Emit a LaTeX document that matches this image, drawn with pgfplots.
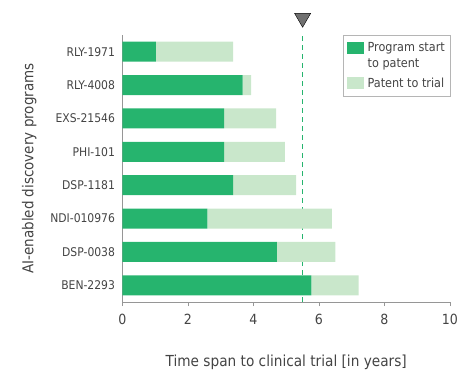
\documentclass[border=0pt]{standalone}
\usepackage{pgfplots}
\pgfplotsset{compat=1.18}
\usepackage{pgfplotstable}
\usepackage{fontspec}
\setmainfont{DejaVu Sans Condensed}
\definecolor{dkgreen}{RGB}{38,180,110}
\definecolor{ltgreen}{RGB}{201,231,203}
\definecolor{txtgray}{RGB}{68,68,68}
\definecolor{axgray}{RGB}{150,150,150}
\definecolor{trigray}{RGB}{112,112,112}

\pgfplotsset{
  legA/.style={legend image code/.code={\fill[##1] (0pt,2pt) rectangle (17pt,14pt);}},
  legB/.style={legend image code/.code={\fill[##1] (0pt,-6pt) rectangle (17pt,6pt);}},
}

\pgfplotstableread{
idx a b
0 5.77 1.44
1 4.71 1.79
2 2.59 3.80
3 3.38 1.92
4 3.10 1.86
5 3.10 1.59
6 3.67 0.26
7 1.02 2.36
}\datatable

\begin{document}
\begin{tikzpicture}
\begin{axis}[
  scale only axis,
  width=327.5pt, height=267pt,
  xbar stacked,
  bar width=20pt,
  xmin=0, xmax=10,
  ymin=-0.5, ymax=7.5,
  clip=false,
  axis lines*=left,
  axis line style={axgray, line width=0.8pt},
  xtick={0,2,4,6,8,10},
  ytick={0,1,2,3,4,5,6,7},
  yticklabels={BEN-2293,DSP-0038,NDI-010976,DSP-1181,PHI-101,EXS-21546,RLY-4008,RLY-1971},
  y tick label style={font=\fontsize{12}{14}\selectfont, text=txtgray},
  x tick label style={font=\fontsize{14}{16}\selectfont, text=txtgray},
  /pgf/number format/assume math mode=true,
  ytick style={draw=none},
  xtick style={axgray, line width=0.8pt},
  xtick align=outside,
  major tick length=4pt,
  xticklabel shift=5pt,
  yticklabel shift=4pt,
  xlabel={Time span to clinical trial [in years]},
  ylabel={AI-enabled discovery programs},
  xlabel style={font=\fontsize{15.2}{17}\selectfont, text=txtgray, yshift=-23pt},
  ylabel style={font=\fontsize{15}{17}\selectfont, text=txtgray, yshift=7pt},
  legend style={at={(rel axis cs:1,1)}, anchor=north east, draw=axgray!70,
    font=\fontsize{12.5}{16}\selectfont, text=txtgray,
    cells={align=left, anchor=west}, inner xsep=3pt, inner ysep=5pt,
    row sep=5pt, column sep=2pt},
]
\addplot[fill=dkgreen, draw=none, legA]
  table[x=a, y=idx] {\datatable};
\addlegendentry{Program start\\to patent}
\addplot[fill=ltgreen, draw=none, legB]
  table[x=b, y=idx] {\datatable};
\addlegendentry{Patent to trial}
\addplot[sharp plot, stack plots=false, forget plot, dkgreen, line width=0.8pt, dash pattern=on 5pt off 4pt]
  coordinates {(5.5,-0.5) (5.5,7.5)};
\addplot[only marks, stack plots=false, forget plot, mark=triangle*, mark size=9.3pt,
  mark options={rotate=180, fill=trigray, draw=none}]
  coordinates {(5.5,8.01)};
\end{axis}
\pgfresetboundingbox
\path (current axis.south west) ++(-122.5pt,-76pt) rectangle ++(474pt,378pt);
\end{tikzpicture}
\end{document}
